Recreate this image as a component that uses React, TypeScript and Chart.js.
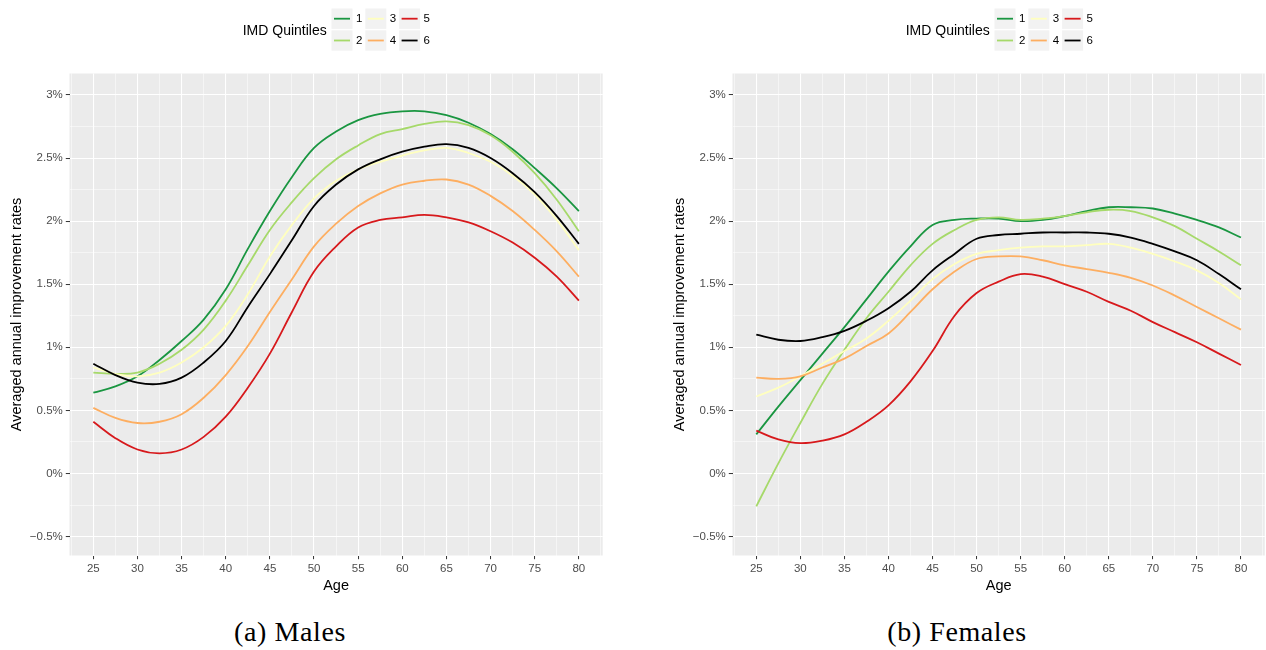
import React, { useEffect, useRef } from 'react';
import { Chart, registerables } from 'chart.js';

Chart.register(...registerables);

// ---------------- data ----------------
const ages = [25, 27.5, 30, 32.5, 35, 37.5, 40, 42.5, 45, 47.5, 50, 52.5, 55, 57.5, 60, 62.5, 65, 67.5, 70, 72.5, 75, 77.5, 80];

const maleQ1 = [0.64, 0.69, 0.77, 0.90, 1.05, 1.22, 1.46, 1.78, 2.08, 2.35, 2.58, 2.71, 2.80, 2.85, 2.87, 2.87, 2.84, 2.78, 2.69, 2.57, 2.42, 2.26, 2.08];
const maleQ2 = [0.80, 0.79, 0.80, 0.87, 0.98, 1.14, 1.37, 1.65, 1.93, 2.15, 2.34, 2.49, 2.60, 2.69, 2.73, 2.77, 2.79, 2.76, 2.68, 2.55, 2.38, 2.17, 1.92];
const maleQ3 = [0.84, 0.79, 0.77, 0.80, 0.88, 1.00, 1.17, 1.42, 1.72, 1.97, 2.18, 2.32, 2.41, 2.47, 2.52, 2.56, 2.58, 2.54, 2.47, 2.36, 2.21, 2.01, 1.77];
const maleQ4 = [0.52, 0.44, 0.40, 0.41, 0.47, 0.60, 0.78, 1.01, 1.28, 1.54, 1.80, 1.98, 2.12, 2.22, 2.29, 2.32, 2.33, 2.29, 2.20, 2.08, 1.93, 1.76, 1.56];
const maleQ5 = [0.41, 0.28, 0.19, 0.16, 0.19, 0.29, 0.45, 0.68, 0.95, 1.28, 1.60, 1.80, 1.95, 2.01, 2.03, 2.05, 2.03, 1.99, 1.92, 1.83, 1.71, 1.56, 1.37];
const maleQ6 = [0.87, 0.78, 0.72, 0.71, 0.76, 0.88, 1.05, 1.32, 1.58, 1.85, 2.12, 2.29, 2.41, 2.49, 2.55, 2.59, 2.61, 2.58, 2.50, 2.38, 2.23, 2.04, 1.82];

const femaleQ1 = [0.31, 0.53, 0.74, 0.95, 1.16, 1.38, 1.60, 1.80, 1.97, 2.01, 2.02, 2.02, 2.00, 2.01, 2.04, 2.08, 2.11, 2.11, 2.10, 2.06, 2.01, 1.95, 1.87];
const femaleQ2 = [-0.26, 0.08, 0.40, 0.71, 0.98, 1.23, 1.44, 1.65, 1.82, 1.93, 2.01, 2.03, 2.01, 2.02, 2.04, 2.07, 2.09, 2.08, 2.03, 1.96, 1.86, 1.76, 1.65];
const femaleQ3 = [0.61, 0.68, 0.77, 0.87, 0.97, 1.07, 1.21, 1.37, 1.54, 1.66, 1.74, 1.77, 1.79, 1.80, 1.80, 1.81, 1.82, 1.79, 1.74, 1.68, 1.61, 1.51, 1.38];
const femaleQ4 = [0.76, 0.75, 0.77, 0.84, 0.91, 1.01, 1.11, 1.28, 1.46, 1.60, 1.70, 1.72, 1.72, 1.69, 1.65, 1.62, 1.59, 1.55, 1.49, 1.41, 1.32, 1.23, 1.14];
const femaleQ5 = [0.34, 0.27, 0.24, 0.26, 0.31, 0.41, 0.54, 0.73, 0.97, 1.25, 1.43, 1.52, 1.58, 1.56, 1.50, 1.44, 1.36, 1.29, 1.20, 1.12, 1.04, 0.95, 0.86];
const femaleQ6 = [1.10, 1.06, 1.05, 1.08, 1.13, 1.21, 1.31, 1.44, 1.61, 1.74, 1.86, 1.89, 1.90, 1.91, 1.91, 1.91, 1.90, 1.87, 1.82, 1.76, 1.69, 1.58, 1.46];

const quintileLabels = ['1', '2', '3', '4', '5', '6'];
const quintileColors = ['#1A9641', '#A6D96A', '#FFFFBF', '#FDAE61', '#D7191C', '#000000'];
const legendTitle = 'IMD Quintiles';

const xMajorValues = [25, 30, 35, 40, 45, 50, 55, 60, 65, 70, 75, 80];
const xTickLabels = ['25', '30', '35', '40', '45', '50', '55', '60', '65', '70', '75', '80'];
const xGridValues = [22.5, 25, 27.5, 30, 32.5, 35, 37.5, 40, 42.5, 45, 47.5, 50, 52.5, 55, 57.5, 60, 62.5, 65, 67.5, 70, 72.5, 75, 77.5, 80, 82.5];

const yMajorValues = [-0.5, 0, 0.5, 1, 1.5, 2, 2.5, 3];
const yTickLabels = ['\u22120.5%', '0%', '0.5%', '1%', '1.5%', '2%', '2.5%', '3%'];
const yGridValues = [-0.5, -0.25, 0, 0.25, 0.5, 0.75, 1, 1.25, 1.5, 1.75, 2, 2.25, 2.5, 2.75, 3];

const xTitle = 'Age';
const yTitle = 'Averaged annual improvement rates';

// ---------------- layout ----------------
const FONT = '"Liberation Sans", Arial, Helvetica, sans-serif';
const CANVAS_H = 605;
const AREA_LEFT = 69.5;
const AREA_TOP = 73.5;
const AREA_RIGHT = 602.7;
const AREA_BOTTOM = 555.5;

const near = (arr: number[], v: number) => arr.findIndex((m) => Math.abs(m - v) < 1e-6);

const panelBgPlugin = {
  id: 'panelBg',
  beforeDraw(chart: any) {
    const { ctx, chartArea } = chart;
    ctx.save();
    ctx.fillStyle = '#EBEBEB';
    ctx.fillRect(chartArea.left, chartArea.top, chartArea.right - chartArea.left, chartArea.bottom - chartArea.top);
    ctx.restore();
  },
};

const legendPlugin = {
  id: 'ggLegend',
  afterDraw(chart: any) {
    const ctx = chart.ctx as CanvasRenderingContext2D;
    ctx.save();
    ctx.textBaseline = 'middle';
    ctx.textAlign = 'left';
    ctx.fillStyle = '#000000';
    ctx.font = `14px ${FONT}`;
    ctx.fillText(legendTitle, 242.7, 31);
    chart.data.datasets.forEach((ds: any, i: number) => {
      const col = Math.floor(i / 2);
      const row = i % 2;
      const kx = 331.5 + col * 33.8;
      const ky = 8.5 + row * 21.8;
      const kw = 21;
      const kh = 20.4;
      ctx.fillStyle = '#F2F2F2';
      ctx.fillRect(kx, ky, kw, kh);
      ctx.strokeStyle = ds.borderColor;
      ctx.lineWidth = 1.8;
      ctx.beginPath();
      ctx.moveTo(kx + 2.5, ky + kh / 2);
      ctx.lineTo(kx + kw - 2.5, ky + kh / 2);
      ctx.stroke();
      ctx.fillStyle = '#000000';
      ctx.font = `11.5px ${FONT}`;
      ctx.fillText(ds.label, kx + kw + 3.5, ky + kh / 2 + 0.5);
    });
    ctx.restore();
  },
};

function ChartPanel({ left, width, seriesList }: { left: number; width: number; seriesList: number[][] }) {
  const ref = useRef<HTMLCanvasElement>(null);
  useEffect(() => {
    const canvas = ref.current;
    if (!canvas) return;
    const chart = new Chart(canvas, {
      type: 'line',
      data: {
        datasets: seriesList.map((vals, i) => ({
          label: quintileLabels[i],
          data: ages.map((a, j) => ({ x: a, y: vals[j] })),
          borderColor: quintileColors[i],
          backgroundColor: quintileColors[i],
          borderWidth: 1.8,
          pointRadius: 0,
          pointHoverRadius: 0,
          tension: 0.4,
          fill: false,
          order: seriesList.length - 1 - i,
        })),
      },
      options: {
        responsive: false,
        animation: false,
        devicePixelRatio: 1,
        events: [],
        layout: {
          autoPadding: false,
          padding: { left: 0, top: AREA_TOP, right: width - AREA_RIGHT, bottom: 0 },
        },
        plugins: {
          legend: { display: false },
          tooltip: { enabled: false },
          title: { display: false },
        },
        scales: {
          x: {
            type: 'linear',
            bounds: 'data',
            min: 22.3,
            max: 82.7,
            afterBuildTicks: (s: any) => {
              s.ticks = xGridValues.map((v) => ({ value: v }));
            },
            afterFit: (s: any) => {
              s.height = CANVAS_H - AREA_BOTTOM;
            },
            border: { display: false },
            grid: {
              color: '#FFFFFF',
              lineWidth: (c: any) => (near(xMajorValues, c.tick?.value) >= 0 ? 1.07 : 0.53),
              tickColor: (c: any) => (near(xMajorValues, c.tick?.value) >= 0 ? '#333333' : 'rgba(0,0,0,0)'),
              tickWidth: 1,
              tickLength: 3.7,
            },
            ticks: {
              autoSkip: false,
              maxRotation: 0,
              minRotation: 0,
              padding: 3,
              color: '#4D4D4D',
              font: { family: FONT, size: 11.5 },
              callback: (v: any) => {
                const k = near(xMajorValues, Number(v));
                return k >= 0 ? xTickLabels[k] : '';
              },
            },
            title: {
              display: true,
              text: xTitle,
              color: '#000000',
              font: { family: FONT, size: 14.5 },
              padding: { top: 0, bottom: 10 },
            },
          },
          y: {
            type: 'linear',
            bounds: 'data',
            min: -0.65,
            max: 3.17,
            afterBuildTicks: (s: any) => {
              s.ticks = yGridValues.map((v) => ({ value: v }));
            },
            afterFit: (s: any) => {
              s.width = AREA_LEFT;
            },
            border: { display: false },
            grid: {
              color: '#FFFFFF',
              lineWidth: (c: any) => (near(yMajorValues, c.tick?.value) >= 0 ? 1.07 : 0.53),
              tickColor: (c: any) => (near(yMajorValues, c.tick?.value) >= 0 ? '#333333' : 'rgba(0,0,0,0)'),
              tickWidth: 1,
              tickLength: 3.7,
            },
            ticks: {
              autoSkip: false,
              padding: 3,
              color: '#4D4D4D',
              font: { family: FONT, size: 11.5 },
              callback: (v: any) => {
                const k = near(yMajorValues, Number(v));
                return k >= 0 ? yTickLabels[k] : '';
              },
            },
            title: {
              display: true,
              text: yTitle,
              color: '#000000',
              font: { family: FONT, size: 14.5 },
              padding: { top: 8.5, bottom: 0 },
            },
          },
        },
      },
      plugins: [panelBgPlugin, legendPlugin],
    } as any);
    return () => chart.destroy();
  }, []);
  return (
    <canvas
      ref={ref}
      width={width}
      height={CANVAS_H}
      style={{ position: 'absolute', left, top: 0, width, height: CANVAS_H, display: 'block' }}
    />
  );
}

const captionStyle: React.CSSProperties = {
  position: 'absolute',
  top: 617.5,
  width: 300,
  textAlign: 'center',
  fontFamily: '"Liberation Serif", "Times New Roman", serif',
  fontSize: 28,
  lineHeight: '28px',
  letterSpacing: '0.6px',
  color: '#000000',
  whiteSpace: 'nowrap',
};

export default function App() {
  return (
    <div style={{ position: 'absolute', left: 0, top: 0, width: 1266, height: 650, overflow: 'hidden', background: '#FFFFFF' }}>
      <ChartPanel left={0} width={630} seriesList={[maleQ1, maleQ2, maleQ3, maleQ4, maleQ5, maleQ6]} />
      <ChartPanel left={663} width={603} seriesList={[femaleQ1, femaleQ2, femaleQ3, femaleQ4, femaleQ5, femaleQ6]} />
      <div style={{ ...captionStyle, left: 290 - 150 }}>(a) Males</div>
      <div style={{ ...captionStyle, left: 957 - 150 }}>(b) Females</div>
    </div>
  );
}
